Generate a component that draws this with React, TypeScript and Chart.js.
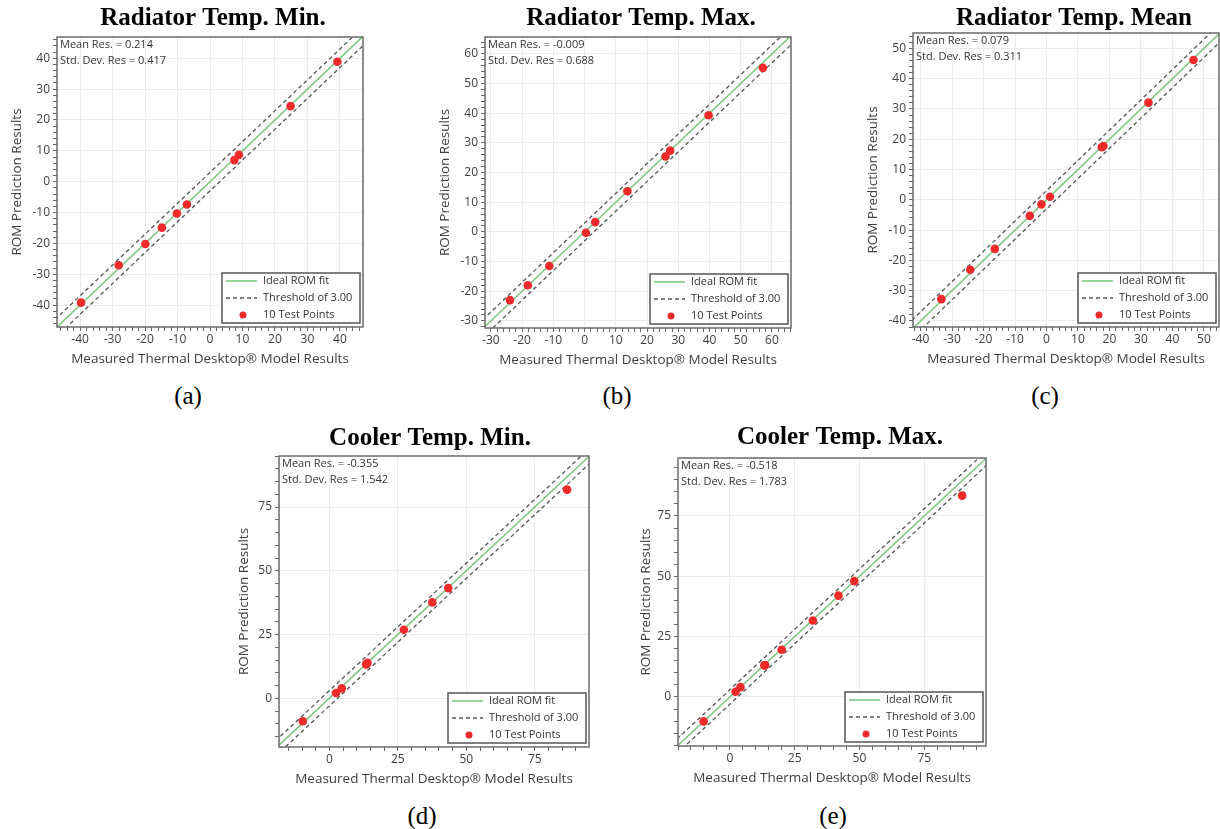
import React, { useEffect, useRef } from "react";
import { Chart, registerables } from "chart.js";

Chart.register(...registerables);

// ---------------- DATA ----------------
const THRESHOLD = 3;

const titles = [
  "Radiator Temp. Min.",
  "Radiator Temp. Max.",
  "Radiator Temp. Mean",
  "Cooler Temp. Min.",
  "Cooler Temp. Max.",
];
const captions = ["(a)", "(b)", "(c)", "(d)", "(e)"];

const meanRes = ["0.214", "-0.009", "0.079", "-0.355", "-0.518"];
const stdDevRes = ["0.417", "0.688", "0.311", "1.542", "1.783"];

const aMeasured = [-39.7, -28.1, -19.9, -14.8, -10.2, -7.1, 7.5, 8.9, 24.8, 39.2];
const aPredicted = [-39.2, -27.1, -20.2, -14.9, -10.3, -7.4, 7.0, 8.7, 24.5, 38.9];

const bMeasured = [-23.9, -18.2, -11.3, 0.4, 3.4, 13.7, 25.9, 27.4, 39.7, 57.1];
const bPredicted = [-23.0, -18.0, -11.5, -0.3, 3.3, 13.7, 25.4, 27.4, 39.3, 55.3];

const cMeasured = [-33.4, -24.2, -16.4, -5.3, -1.6, 1.1, 17.6, 18.1, 32.4, 46.7];
const cPredicted = [-32.8, -23.1, -16.2, -5.3, -1.5, 1.0, 17.4, 17.8, 32.1, 46.2];

const dMeasured = [-9.7, 2.4, 4.5, 13.4, 13.9, 13.7, 27.2, 37.6, 43.4, 86.8];
const dPredicted = [-9.0, 2.1, 3.9, 13.3, 13.9, 13.5, 26.9, 37.6, 43.2, 81.8];

const eMeasured = [-10.1, 2.2, 4.1, 13.6, 13.3, 20.0, 32.0, 41.9, 48.0, 89.6];
const ePredicted = [-10.1, 2.2, 4.1, 13.2, 13.1, 19.6, 31.7, 42.0, 48.0, 83.4];

const measuredSets = [aMeasured, bMeasured, cMeasured, dMeasured, eMeasured];
const predictedSets = [aPredicted, bPredicted, cPredicted, dPredicted, ePredicted];

const xRanges = [
  [-47.1, 47.1],
  [-31.9, 66.1],
  [-42.4, 54.8],
  [-18.4, 94.8],
  [-20.0, 98.8],
];
const yRanges = [
  [-47.1, 46.9],
  [-32.4, 65.7],
  [-42.0, 55.1],
  [-19.1, 95.0],
  [-20.3, 99.0],
];
const majorSteps = [10, 10, 10, 25, 25];
const minorSteps = [2, 2, 2, 5, 5];

const legendIdeal = "Ideal ROM fit";
const xAxisTitle = "Measured Thermal Desktop\u00AE Model Results";
const yAxisTitle = "ROM Prediction Results";

// ---------------- LAYOUT / STYLE ----------------
const LAYOUT = [
  { L: 57, T: 37, R: 363, B: 327, titleCx: 213, titleCy: 18.5, yTitleCx: 17.5, capX: 188, capY: 395 },
  { L: 485, T: 37, R: 791, B: 328, titleCx: 641, titleCy: 18.7, yTitleCx: 445, capX: 617, capY: 395 },
  { L: 913, T: 33, R: 1219, B: 327, titleCx: 1074, titleCy: 18.7, yTitleCx: 873, capX: 1045, capY: 395 },
  { L: 279, T: 456, R: 589, B: 747, titleCx: 430, titleCy: 438.3, yTitleCx: 244, capX: 422, capY: 815 },
  { L: 678, T: 458, R: 986, B: 746, titleCx: 840, titleCy: 437.5, yTitleCx: 646, capX: 833, capY: 815 },
];

const YW = 70;
const XH = 50;
const TOPH = 40;
const X_TITLE_OFFSET = 32;

const SANS = '"Open Sans", "Noto Sans", sans-serif';
const SERIF = '"Liberation Serif", "Times New Roman", serif';
const TICK_SIZE = 12;
const AXIS_TITLE_SIZE = 13.5;
const SMALL_SIZE = 11;
const TITLE_SIZE = 25;

const RED = "#ee2a2a";
const GREEN = "#7fc97f";
const DASH = "#555555";
const GRID = "#ebebeb";
const TEXT = "#404040";
const FRAME = "#6a6a6a";

function makeTicks(min: number, max: number, step: number) {
  const out: { value: number }[] = [];
  for (let i = Math.ceil(min / step); i <= Math.floor(max / step); i++) {
    out.push({ value: i * step });
  }
  return out;
}

const framePlugin = {
  id: "frame",
  afterDatasetsDraw(chart: any) {
    const { ctx, chartArea: a } = chart;
    ctx.save();
    ctx.strokeStyle = FRAME;
    ctx.lineWidth = 1.5;
    ctx.strokeRect(a.left, a.top, a.right - a.left, a.bottom - a.top);
    ctx.restore();
  },
};

function makeInfoPlugin(idx: number) {
  return {
    id: "info" + idx,
    afterDraw(chart: any) {
      const { ctx, chartArea: a } = chart;
      ctx.save();
      // statistics text
      ctx.font = `${SMALL_SIZE}px ${SANS}`;
      ctx.fillStyle = "#333";
      ctx.textBaseline = "middle";
      ctx.textAlign = "left";
      ctx.fillText(`Mean Res. = ${meanRes[idx]}`, a.left + 3, a.top + 8);
      ctx.fillText(`Std. Dev. Res = ${stdDevRes[idx]}`, a.left + 3, a.top + 24);

      // legend box
      const items = chart.data.datasets.filter((d: any) => d.showInLegend !== false);
      const w = 138;
      const h = 50;
      const x0 = a.right - 3 - w;
      const y0 = a.bottom - 4 - h;
      ctx.fillStyle = "#fff";
      ctx.fillRect(x0, y0, w, h);
      ctx.strokeStyle = "#555";
      ctx.lineWidth = 1.5;
      ctx.strokeRect(x0, y0, w, h);
      items.forEach((d: any, i: number) => {
        const cy = y0 + 8 + i * 17;
        if (d.showLine) {
          ctx.save();
          ctx.strokeStyle = d.borderColor;
          ctx.lineWidth = d.borderWidth;
          ctx.setLineDash(d.borderDash || []);
          ctx.beginPath();
          ctx.moveTo(x0 + 4, cy);
          ctx.lineTo(x0 + 35, cy);
          ctx.stroke();
          ctx.restore();
        } else {
          ctx.fillStyle = d.backgroundColor;
          ctx.beginPath();
          ctx.arc(x0 + 21, cy, 3.5, 0, Math.PI * 2);
          ctx.fill();
        }
        ctx.fillStyle = "#333";
        ctx.font = `${SMALL_SIZE}px ${SANS}`;
        ctx.textBaseline = "middle";
        ctx.fillText(d.label, x0 + 41, cy);
      });
      ctx.restore();
    },
  };
}

function Panel({ idx }: { idx: number }) {
  const ref = useRef<HTMLCanvasElement | null>(null);
  const g = LAYOUT[idx];
  const cl = g.L - YW;
  const ct = g.T - TOPH;
  const rightPad = 2 * g.titleCx - g.L - g.R + YW;
  const cw = g.R + rightPad - cl;
  const ch = g.B - ct + XH;

  useEffect(() => {
    const canvas = ref.current;
    if (!canvas) return;
    const xs = measuredSets[idx];
    const ys = predictedSets[idx];
    const [xMin, xMax] = xRanges[idx];
    const [yMin, yMax] = yRanges[idx];
    const major = majorSteps[idx];
    const minor = minorSteps[idx];
    const lo = Math.min(xMin, yMin) - 10;
    const hi = Math.max(xMax, yMax) + 10;
    const diag = (off: number) => [
      { x: lo, y: lo + off },
      { x: hi, y: hi + off },
    ];
    const isMajor = (v: number) => Math.abs(v / major - Math.round(v / major)) < 1e-9;
    const axisLH = AXIS_TITLE_SIZE * 1.2;
    const titlePadTop = g.titleCy - ct - TITLE_SIZE / 2;
    const titlePadBottom = TOPH - TITLE_SIZE - titlePadTop;
    const yTitlePad = g.yTitleCx - cl - axisLH / 2;
    const xTitlePad = XH - X_TITLE_OFFSET - axisLH / 2;

    const gridCfg = {
      color: (c: any) => (c.tick && isMajor(c.tick.value) ? GRID : "rgba(0,0,0,0)"),
      tickColor: "#666",
      tickLength: 4,
      lineWidth: 1,
      drawTicks: true,
    };
    const tickCfg = {
      autoSkip: false,
      maxRotation: 0,
      minRotation: 0,
      includeBounds: false,
      color: TEXT,
      font: { family: SANS, size: TICK_SIZE },
      callback: (v: any) => (isMajor(Number(v)) ? String(Math.round(Number(v))) : ""),
    };

    const chart = new Chart(canvas, {
      type: "scatter",
      data: {
        datasets: [
          {
            label: legendIdeal,
            data: diag(0),
            showLine: true,
            borderColor: GREEN,
            borderWidth: 1.6,
            pointRadius: 0,
            order: 1,
            clip: 0,
          } as any,
          {
            label: `Threshold of ${THRESHOLD.toFixed(2)}`,
            data: diag(THRESHOLD),
            showLine: true,
            borderColor: DASH,
            borderWidth: 1.3,
            borderDash: [4, 3],
            pointRadius: 0,
            order: 2,
            clip: 0,
          },
          {
            label: `Threshold of ${THRESHOLD.toFixed(2)} (lower)`,
            data: diag(-THRESHOLD),
            showLine: true,
            borderColor: DASH,
            borderWidth: 1.3,
            borderDash: [4, 3],
            pointRadius: 0,
            order: 2,
            clip: 0,
            showInLegend: false,
          },
          {
            label: `${xs.length} Test Points`,
            data: xs.map((x, i) => ({ x, y: ys[i] })),
            backgroundColor: RED,
            borderWidth: 0,
            pointRadius: 4.3,
            pointHoverRadius: 4.3,
            pointBorderWidth: 0,
            order: 0,
          },
        ],
      },
      options: {
        responsive: false,
        animation: false,
        devicePixelRatio: 1,
        events: [],
        layout: { padding: 0 },
        plugins: {
          legend: { display: false },
          tooltip: { enabled: false },
          title: {
            display: true,
            text: titles[idx],
            color: "#000",
            align: "center",
            fullSize: true,
            font: { family: SERIF, size: TITLE_SIZE, weight: "bold", lineHeight: 1 },
            padding: { top: titlePadTop, bottom: titlePadBottom },
          },
        },
        scales: {
          x: {
            type: "linear",
            position: "bottom",
            min: xMin,
            max: xMax,
            afterBuildTicks: (s: any) => {
              s.ticks = makeTicks(xMin, xMax, minor);
            },
            afterFit: (s: any) => {
              s.height = XH;
            },
            ticks: { ...tickCfg, padding: 1 },
            grid: gridCfg,
            border: { display: false },
            title: {
              display: true,
              text: xAxisTitle,
              color: TEXT,
              font: { family: SANS, size: AXIS_TITLE_SIZE },
              padding: { top: 0, bottom: xTitlePad },
            },
          },
          y: {
            type: "linear",
            position: "left",
            min: yMin,
            max: yMax,
            afterBuildTicks: (s: any) => {
              s.ticks = makeTicks(yMin, yMax, minor);
            },
            afterFit: (s: any) => {
              s.width = YW;
            },
            ticks: { ...tickCfg, padding: 3 },
            grid: gridCfg,
            border: { display: false },
            title: {
              display: true,
              text: yAxisTitle,
              color: TEXT,
              font: { family: SANS, size: AXIS_TITLE_SIZE },
              padding: { top: yTitlePad, bottom: 0 },
            },
          },
          yr: {
            type: "linear",
            axis: "y",
            position: "right",
            display: true,
            grid: { display: false },
            ticks: { display: false },
            border: { display: false },
            afterFit: (s: any) => {
              s.width = rightPad;
            },
          },
        },
      } as any,
      plugins: [framePlugin, makeInfoPlugin(idx)],
    });
    return () => chart.destroy();
  }, [idx]);

  return (
    <>
      <canvas
        ref={ref}
        width={cw}
        height={ch}
        style={{ position: "absolute", left: cl, top: ct, width: cw, height: ch }}
      />
      <div
        style={{
          position: "absolute",
          left: g.capX,
          top: g.capY,
          transform: "translate(-50%, -50%)",
          fontFamily: SERIF,
          fontSize: 25,
          color: "#000",
          lineHeight: 1,
          whiteSpace: "nowrap",
        }}
      >
        {captions[idx]}
      </div>
    </>
  );
}

export default function App() {
  return (
    <div
      style={{
        position: "absolute",
        left: 0,
        top: 0,
        width: 1220,
        height: 829,
        overflow: "hidden",
        background: "#fff",
      }}
    >
      {LAYOUT.map((_, i) => (
        <Panel key={i} idx={i} />
      ))}
    </div>
  );
}
